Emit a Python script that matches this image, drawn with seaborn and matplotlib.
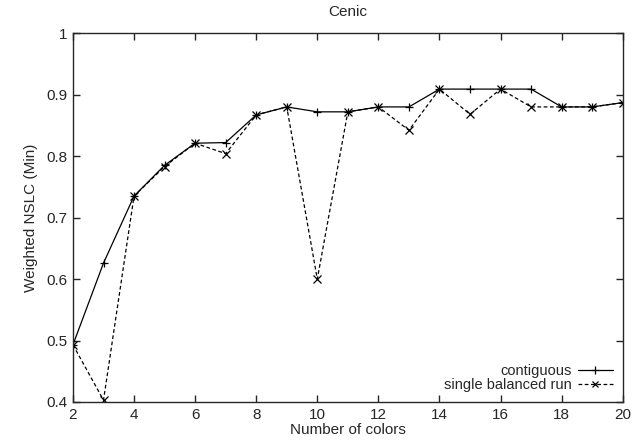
import matplotlib
matplotlib.use("Agg")
import matplotlib.pyplot as plt
import seaborn as sns
import pandas as pd
from matplotlib.lines import Line2D

colors_n = list(range(2, 21))
contiguous = [0.493, 0.626, 0.735, 0.785, 0.821, 0.822, 0.867, 0.880, 0.872, 0.872,
              0.880, 0.880, 0.909, 0.909, 0.909, 0.909, 0.880, 0.880, 0.887]
single_balanced = [0.493, 0.403, 0.735, 0.783, 0.821, 0.804, 0.867, 0.880, 0.600, 0.872,
                   0.880, 0.842, 0.909, 0.868, 0.909, 0.880, 0.880, 0.880, 0.887]
series_names = ["contiguous", "single balanced run"]

df = pd.DataFrame({
    "n": colors_n * 2,
    "v": contiguous + single_balanced,
    "s": [series_names[0]] * len(colors_n) + [series_names[1]] * len(colors_n),
})

sns.set_style("ticks")
plt.rcParams['font.family'] = ['Liberation Sans', 'DejaVu Sans']

fig = plt.figure(figsize=(6.4, 4.42), dpi=100)
ax = fig.add_axes([0.114, 0.0905, 0.859, 0.8345])

sns.lineplot(data=df, x="n", y="v", hue="s", style="s",
             palette=["black", "black"], dashes=[(None, None), (3, 2)],
             markers=["+", "x"], markersize=6, linewidth=0.9,
             markeredgecolor="black", markeredgewidth=0.9, ax=ax, legend=False)

handles = [Line2D([], [], color="black", lw=0.9, marker="+", markersize=6, markeredgewidth=0.9),
           Line2D([], [], color="black", lw=0.9, ls=(0, (3, 2)), marker="x", markersize=5, markeredgewidth=0.9)]
ax.legend(handles, series_names, loc="lower right", frameon=False, markerfirst=False,
          fontsize=10.5, handlelength=2.4, handletextpad=0.4, labelspacing=0.0,
          borderaxespad=0.6, borderpad=0.1)

ax.set_xlim(2, 20)
ax.set_ylim(0.4, 1.0)
ax.set_xticks(range(2, 21, 2))
ax.set_yticks([0.4, 0.5, 0.6, 0.7, 0.8, 0.9, 1.0])
ax.set_yticklabels(["0.4", "0.5", "0.6", "0.7", "0.8", "0.9", "1"])
ax.tick_params(direction="in", top=True, right=True, length=5, width=1, labelsize=11, pad=4)
for sp in ax.spines.values():
    sp.set_linewidth(1.0)
    sp.set_visible(True)
ax.set_xlabel("Number of colors", fontsize=11, labelpad=1)
ax.set_ylabel("Weighted NSLC (Min)", fontsize=11, labelpad=6)
ax.set_title("Cenic", fontsize=11, pad=12)

fig.savefig("out.png", dpi=100)
